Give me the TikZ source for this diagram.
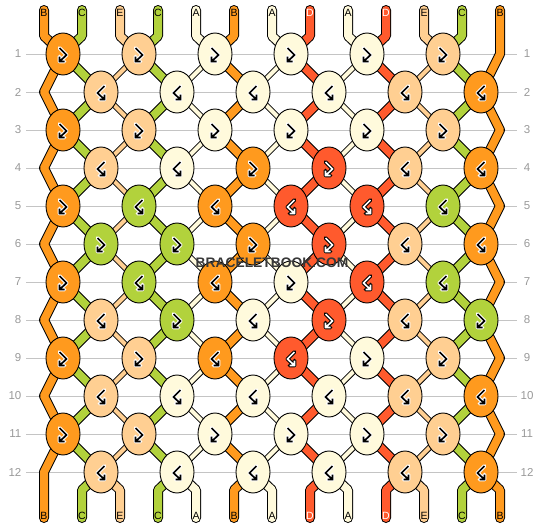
\documentclass[tikz,border=0pt]{standalone}
\usepackage{fontspec}
\setmainfont{Liberation Sans}
\usetikzlibrary{shapes.geometric}

\definecolor{colA}{HTML}{FFFADC}
\definecolor{colB}{HTML}{FF9A1E}
\definecolor{colC}{HTML}{B2D23C}
\definecolor{colD}{HTML}{FF5A2D}
\definecolor{colE}{HTML}{FFCF92}
\colorlet{fgA}{black}\colorlet{fgB}{black}\colorlet{fgC}{black}\colorlet{fgD}{white}\colorlet{fgE}{black}
\colorlet{hlA}{white}\colorlet{hlB}{white}\colorlet{hlC}{white}\colorlet{hlD}{black}\colorlet{hlE}{white}
\definecolor{rowgray}{HTML}{C4C4C4}
\definecolor{numgray}{HTML}{999999}

% width of a thread between two knots
\newcommand\wA{4pt}\newcommand\wB{8pt}\newcommand\wC{8pt}\newcommand\wD{8pt}\newcommand\wE{4pt}

\pgfdeclarelayer{grid}
\pgfdeclarelayer{threads}
\pgfsetlayers{grid,threads,main}

\tikzset{
  thro/.style 2 args={draw=black, line width=#2+2pt},
  thrf/.style 2 args={draw=col#1, line width=#2},
}

% #1 = o (outline) or f (fill)
\newcommand\drawthreads[1]{%
  \draw[thr#1={B}{8pt}, line cap=round, line join=round] (top-1) -- (tb-1)
    \foreach \r/\rr in {1/2,3/4,5/6,7/8,9/10,11/12}{ -- (k-\r-1.center) -- (lft-\rr)} -- (bot-1);
  \draw[thr#1={B}{8pt}, line cap=round, line join=round] (top-13)
    \foreach \r/\rr in {1/2,3/4,5/6,7/8,9/10,11/12}{ -- (rgt-\r) -- (k-\rr-6.center)} -- (bb-13) -- (bot-13);
  \foreach \i/\sc in {2/C,3/E,4/C,5/A,6/B,7/A,8/D,9/A,10/D,11/E,12/C}{
    \pgfmathtruncatemacro\ca{(\i+1)/2}
    \pgfmathtruncatemacro\cb{\i/2}
    \edef\sw{\csname w\sc\endcsname}
    \draw[thr#1={\sc}{8pt}, line cap=round, line join=round] (top-\i) -- (tb-\i) -- (k-1-\ca.center);
    \draw[thr#1={\sc}{8pt}, line cap=round, line join=round] (k-12-\cb.center) -- (bb-\i) -- (bot-\i);
    \draw[thr#1={\sc}{\sw}] (k-1-\ca.center)
      \foreach \r/\rr in {2/3,4/5,6/7,8/9,10/11}{ -- (k-\r-\cb.center) -- (k-\rr-\ca.center)} -- (k-12-\cb.center);
  }%
}

\begin{document}
\begin{tikzpicture}[x=1pt, y=-1pt,
  knot/.style={ellipse, draw=black, line width=0.9pt, minimum width=34pt, minimum height=42pt, inner sep=0pt},
  lbl/.style={inner sep=0pt, font=\fontsize{10.5}{12}\selectfont},
  rownum/.style={inner sep=0pt, text=numgray, font=\fontsize{11.5}{13}\selectfont},
  rowline/.style={draw=rowgray, line width=1pt},
  pics/glyph/.style 2 args={code={
    \begin{scope}[xscale=#1]
      \draw[draw=hl#2, line width=3.8pt, line cap=round, line join=round]
        (-3.5,-6) -- (3.5,1) -- (-3.5,7.5) (-3.5,2.5) -- (-3.5,7.5) -- (1.5,7.5);
      \draw[draw=fg#2, line width=1.7pt]
        (-3.5,-6) -- (3.5,1) -- (-3.5,7.5) (-3.5,2.5) -- (-3.5,7.5) -- (1.5,7.5);
    \end{scope}
  }}]
\useasboundingbox (0,0) rectangle (544,528);

% knots, row by row: colour / side of the thread on top
\foreach \rw/\spec in {
  1/{B/l,E/l,A/l,A/l,A/l,E/l},
  2/{E/r,A/r,A/r,A/r,E/r,B/r},
  3/{B/l,E/l,A/l,A/l,A/l,E/l},
  4/{E/r,A/r,B/l,D/l,E/r,B/r},
  5/{B/l,C/r,B/r,D/r,D/r,C/r},
  6/{C/l,C/l,B/l,D/l,E/r,B/r},
  7/{B/l,C/r,B/r,A/l,D/r,C/r},
  8/{E/r,C/l,A/r,D/l,E/r,C/l},
  9/{B/l,E/l,B/r,D/r,A/l,E/l},
  10/{E/r,A/r,A/r,A/r,E/r,B/r},
  11/{B/l,E/l,A/l,A/l,A/l,E/l},
  12/{E/r,A/r,A/r,A/r,E/r,B/r}}{
  \pgfmathsetmacro\y{54+38*(\rw-1)}
  \pgfmathsetmacro\xo{mod(\rw,2)==1 ? 63 : 101}
  \foreach \sc/\kt [count=\kn] in \spec{
    \if\kt l\def\ks{1}\else\def\ks{-1}\fi
    \node[knot, fill=col\sc] (k-\rw-\kn) at ({\xo+76*(\kn-1)},\y) {};
    \pic at (k-\rw-\kn) {glyph={\ks}{\sc}};
  }
  \ifodd\rw\relax
    \coordinate (rgt-\rw) at (500,\y);
  \else
    \coordinate (lft-\rw) at (44,\y);
  \fi
  \node[rownum, anchor=east] (nl-\rw) at (21.5,\y) {\rw};
  \node[rownum] (nr-\rw) at (527,\y) {\rw};
  \begin{pgfonlayer}{grid}
    \draw[rowline, shorten <=4.5pt, shorten >=10pt] (nl-\rw.east) -- (nr-\rw.center);
  \end{pgfonlayer}
}

% thread ends and letters
\foreach \i/\sc in {1/B,2/C,3/E,4/C,5/A,6/B,7/A,8/D,9/A,10/D,11/E,12/C,13/B}{
  \pgfmathsetmacro\x{44+38*(\i-1)}
  \coordinate (top-\i) at (\x,10);
  \coordinate (tb-\i) at (\x,36);
  \coordinate (bb-\i) at (\x,490);
  \coordinate (bot-\i) at (\x,518);
  \node[lbl, text=fg\sc] (lt-\i) at (\x,13) {\sc};
  \node[lbl, text=fg\sc] (lb-\i) at (\x,516) {\sc};
}

\begin{pgfonlayer}{threads}
  \drawthreads{o}
  \drawthreads{f}
\end{pgfonlayer}

\node[font=\bfseries\fontsize{13.8}{15}\selectfont, text=black!78] (wm) at (272,263) {BRACELETBOOK.COM};
\end{tikzpicture}
\end{document}
